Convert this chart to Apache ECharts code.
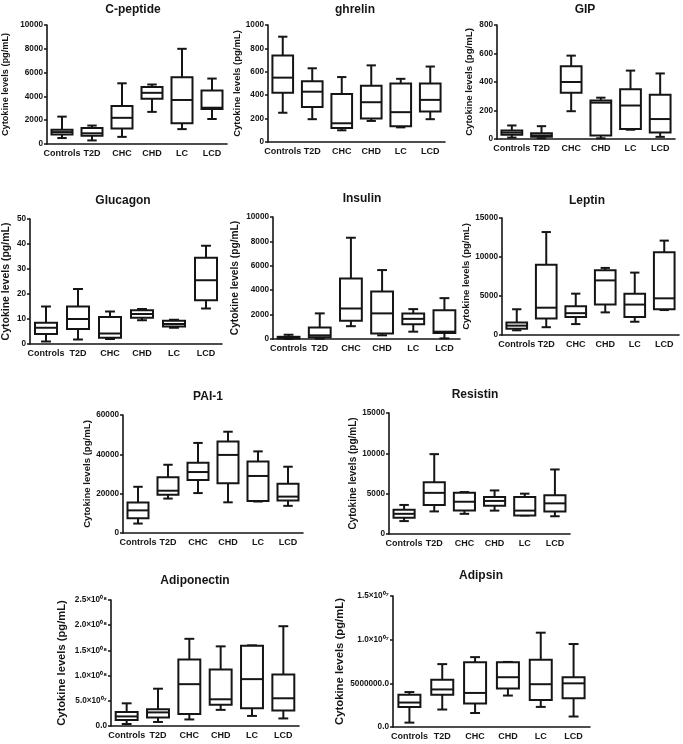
<!DOCTYPE html>
<html>
<head>
<meta charset="utf-8">
<script src="https://cdn.jsdelivr.net/npm/echarts@6/dist/echarts.min.js"></script>
<style>
html,body{margin:0;padding:0;background:#fff;}
#chart{width:683px;height:744px;}
</style>
</head>
<body>
<div id="chart"></div>
<script>
// ---------- DATA: [min, Q1, median, Q3, max] per group ----------
const categories = ['Controls', 'T2D', 'CHC', 'CHD', 'LC', 'LCD'];

const cPeptide = [
  [500, 800, 1000, 1200, 2300],
  [300, 700, 900, 1350, 1550],
  [600, 1300, 2200, 3200, 5100],
  [2700, 3800, 4300, 4800, 5000],
  [1250, 1750, 3700, 5600, 8000],
  [2100, 2950, 3050, 4500, 5500]
];
const ghrelin = [
  [250, 420, 550, 740, 900],
  [195, 300, 430, 520, 630],
  [100, 120, 160, 410, 555],
  [180, 200, 340, 480, 655],
  [125, 135, 255, 500, 540],
  [195, 260, 360, 500, 645]
];
const gip = [
  [10, 30, 45, 60, 95],
  [5, 15, 25, 40, 90],
  [195, 325, 400, 510, 585],
  [5, 25, 255, 270, 290],
  [65, 70, 235, 350, 480],
  [15, 45, 140, 310, 460]
];
const glucagon = [
  [1, 4, 6.5, 8.5, 15],
  [1.8, 6, 10, 15, 22],
  [2, 2.5, 4.2, 10.8, 13],
  [9.5, 10.5, 12, 13.5, 14],
  [6.5, 7, 8, 9.3, 9.7],
  [14.2, 17.5, 25.5, 34.5, 39.3]
];
const insulin = [
  [0, 50, 100, 180, 350],
  [20, 150, 300, 950, 2100],
  [1050, 1500, 2500, 4950, 8300],
  [300, 450, 2100, 3900, 5650],
  [600, 1200, 1650, 2100, 2450],
  [50, 500, 600, 2350, 3350]
];
const leptin = [
  [600, 800, 1200, 1600, 3300],
  [1000, 2100, 3500, 9000, 13200],
  [1400, 2300, 2800, 3700, 5300],
  [2900, 3900, 7000, 8300, 8600],
  [1700, 2300, 3900, 5300, 8000],
  [3200, 3300, 4700, 10600, 12100]
];
const pai1 = [
  [4800, 7500, 11500, 15500, 23500],
  [17500, 19500, 21500, 28300, 34700],
  [20300, 27000, 31000, 35700, 45800],
  [15600, 25300, 39700, 46500, 51500],
  [16000, 16300, 29000, 36300, 41500],
  [13800, 16500, 18500, 25000, 33700]
];
const resistin = [
  [1600, 2000, 2500, 3000, 3600],
  [2800, 3600, 5100, 6400, 9900],
  [2500, 2900, 4000, 5100, 5200],
  [2900, 3500, 4100, 4600, 5400],
  [2300, 2300, 2900, 4600, 5000],
  [2200, 2800, 3800, 4800, 8000]
];
const adiponectin = [
  [4e6, 1.2e7, 1.9e7, 2.8e7, 4.5e7],
  [8e6, 1.7e7, 2.7e7, 3.3e7, 7.4e7],
  [1.3e7, 2.4e7, 8.3e7, 1.32e8, 1.73e8],
  [3.2e7, 4.2e7, 5.3e7, 1.12e8, 1.58e8],
  [2.0e7, 3.5e7, 9.3e7, 1.59e8, 1.6e8],
  [1.5e7, 3.1e7, 5.5e7, 1.02e8, 1.98e8]
];
const adipsin = [
  [5e5, 2.3e6, 2.8e6, 3.7e6, 4.0e6],
  [2.0e6, 3.7e6, 4.3e6, 5.4e6, 7.2e6],
  [1.6e6, 2.7e6, 3.9e6, 7.4e6, 8.0e6],
  [3.6e6, 4.4e6, 5.7e6, 7.4e6, 7.45e6],
  [2.3e6, 3.1e6, 4.9e6, 7.7e6, 10.8e6],
  [1.2e6, 3.3e6, 5.0e6, 5.7e6, 9.5e6]
];

// tick labels
const adiponectinTicks = ['0.0', '5.0×10⁰⁷', '1.0×10⁰⁸', '1.5×10⁰⁸', '2.0×10⁰⁸', '2.5×10⁰⁸'];
const adipsinTicks = ['0.0', '5000000.0', '1.0×10⁰⁷', '1.5×10⁰⁷'];

const yName = 'Cytokine levels (pg/mL)';

// ---------- PANEL LAYOUT ----------
const panels = [
  {title: 'C-peptide', data: cPeptide, max: 10000, interval: 2000, grid: [47, 25, 180, 119], tx: 133, ty: 4, nameGap: 37, nameSize: 9.2},
  {title: 'ghrelin', data: ghrelin, max: 1000, interval: 200, grid: [268, 25, 177, 117], tx: 355, ty: 4, nameGap: 25, nameSize: 9.5},
  {title: 'GIP', data: gip, max: 800, interval: 200, grid: [497, 25, 178, 114], tx: 585, ty: 4, nameGap: 23, nameSize: 9.6},
  {title: 'Glucagon', data: glucagon, max: 50, interval: 10, grid: [30, 219, 192, 125], tx: 123, ty: 195, nameGap: 18, nameSize: 10.5},
  {title: 'Insulin', data: insulin, max: 10000, interval: 2000, grid: [273, 217, 187, 122], tx: 362, ty: 193, nameGap: 33, nameSize: 10.2},
  {title: 'Leptin', data: leptin, max: 15000, interval: 5000, grid: [502, 218, 177, 117], tx: 587, ty: 195, nameGap: 28, nameSize: 9.5},
  {title: 'PAI-1', data: pai1, max: 60000, interval: 20000, grid: [123, 415, 180, 118], tx: 208, ty: 391, nameGap: 29, nameSize: 9.6},
  {title: 'Resistin', data: resistin, max: 15000, interval: 5000, grid: [389, 413, 181, 121], tx: 475, ty: 389, nameGap: 31, nameSize: 10},
  {title: 'Adiponectin', data: adiponectin, max: 2.5e8, interval: 5e7, grid: [111, 600, 188, 126], tx: 195, ty: 575, nameGap: 44, nameSize: 11.2, ticks: adiponectinTicks},
  {title: 'Adipsin', data: adipsin, max: 1.5e7, interval: 5e6, grid: [393, 596, 197, 131], tx: 481, ty: 570, nameGap: 48, nameSize: 11.3, ticks: adipsinTicks}
];

const INK = '#151515';
const FONT = 'Liberation Sans, Arial, sans-serif';

function renderBox(params, api) {
  const xi = api.value(0);
  const pMin = api.coord([xi, api.value(1)]);
  const pQ1 = api.coord([xi, api.value(2)]);
  const pMed = api.coord([xi, api.value(3)]);
  const pQ3 = api.coord([xi, api.value(4)]);
  const pMax = api.coord([xi, api.value(5)]);
  const band = api.size([1, 0])[0];
  const bw = Math.min(22, band * 0.7);
  const cw = bw * 0.45;
  const cx = pMed[0];
  const st = {stroke: INK, lineWidth: 2, fill: null};
  return {
    type: 'group',
    children: [
      {type: 'line', shape: {x1: cx, y1: pQ3[1], x2: cx, y2: pMax[1]}, style: st},
      {type: 'line', shape: {x1: cx, y1: pQ1[1], x2: cx, y2: pMin[1]}, style: st},
      {type: 'line', shape: {x1: cx - cw / 2, y1: pMax[1], x2: cx + cw / 2, y2: pMax[1]}, style: st},
      {type: 'line', shape: {x1: cx - cw / 2, y1: pMin[1], x2: cx + cw / 2, y2: pMin[1]}, style: st},
      {type: 'rect', shape: {x: cx - bw / 2, y: pQ3[1], width: bw, height: pQ1[1] - pQ3[1]},
        style: {stroke: INK, lineWidth: 2, fill: '#fff'}},
      {type: 'line', shape: {x1: cx - bw / 2, y1: pMed[1], x2: cx + bw / 2, y2: pMed[1]}, style: st}
    ]
  };
}

const option = {
  backgroundColor: '#fff',
  animation: false,
  title: [], grid: [], xAxis: [], yAxis: [], series: []
};

panels.forEach((p, k) => {
  option.title.push({
    text: p.title, left: p.tx, top: p.ty, textAlign: 'center', padding: 0,
    textStyle: {fontFamily: FONT, fontWeight: 'bold', fontSize: 12, color: INK}
  });
  option.grid.push({left: p.grid[0], top: p.grid[1], width: p.grid[2], height: p.grid[3], containLabel: false});
  option.xAxis.push({
    type: 'category', gridIndex: k, data: categories, boundaryGap: true,
    axisLine: {lineStyle: {color: INK, width: 1.6}},
    axisTick: {alignWithLabel: true, length: 3, lineStyle: {color: INK, width: 1.5}},
    axisLabel: {interval: 0, margin: 5, fontFamily: FONT, fontWeight: 'bold', fontSize: 9, color: INK},
    splitLine: {show: false}
  });
  const ticks = p.ticks;
  option.yAxis.push({
    type: 'value', gridIndex: k, min: 0, max: p.max, interval: p.interval,
    name: yName, nameLocation: 'middle', nameGap: p.nameGap, nameRotate: 90,
    nameTextStyle: {fontFamily: FONT, fontWeight: 'bold', fontSize: p.nameSize, color: INK},
    axisLine: {show: true, lineStyle: {color: INK, width: 1.6}},
    axisTick: {show: true, length: 3, lineStyle: {color: INK, width: 1.5}},
    axisLabel: {
      margin: 4, fontFamily: FONT, fontWeight: 'bold', fontSize: 8.2, color: INK,
      formatter: ticks ? (v) => ticks[Math.round(v / p.interval)] : (v) => String(v)
    },
    splitLine: {show: false}
  });
  option.series.push({
    type: 'custom', xAxisIndex: k, yAxisIndex: k, clip: false,
    renderItem: renderBox,
    encode: {x: 0, y: [1, 2, 3, 4, 5]},
    data: p.data.map((d, i) => [i].concat(d))
  });
});

const chart = echarts.init(document.getElementById('chart'), null, {renderer: 'canvas'});
chart.setOption(option);
</script>
</body>
</html>
